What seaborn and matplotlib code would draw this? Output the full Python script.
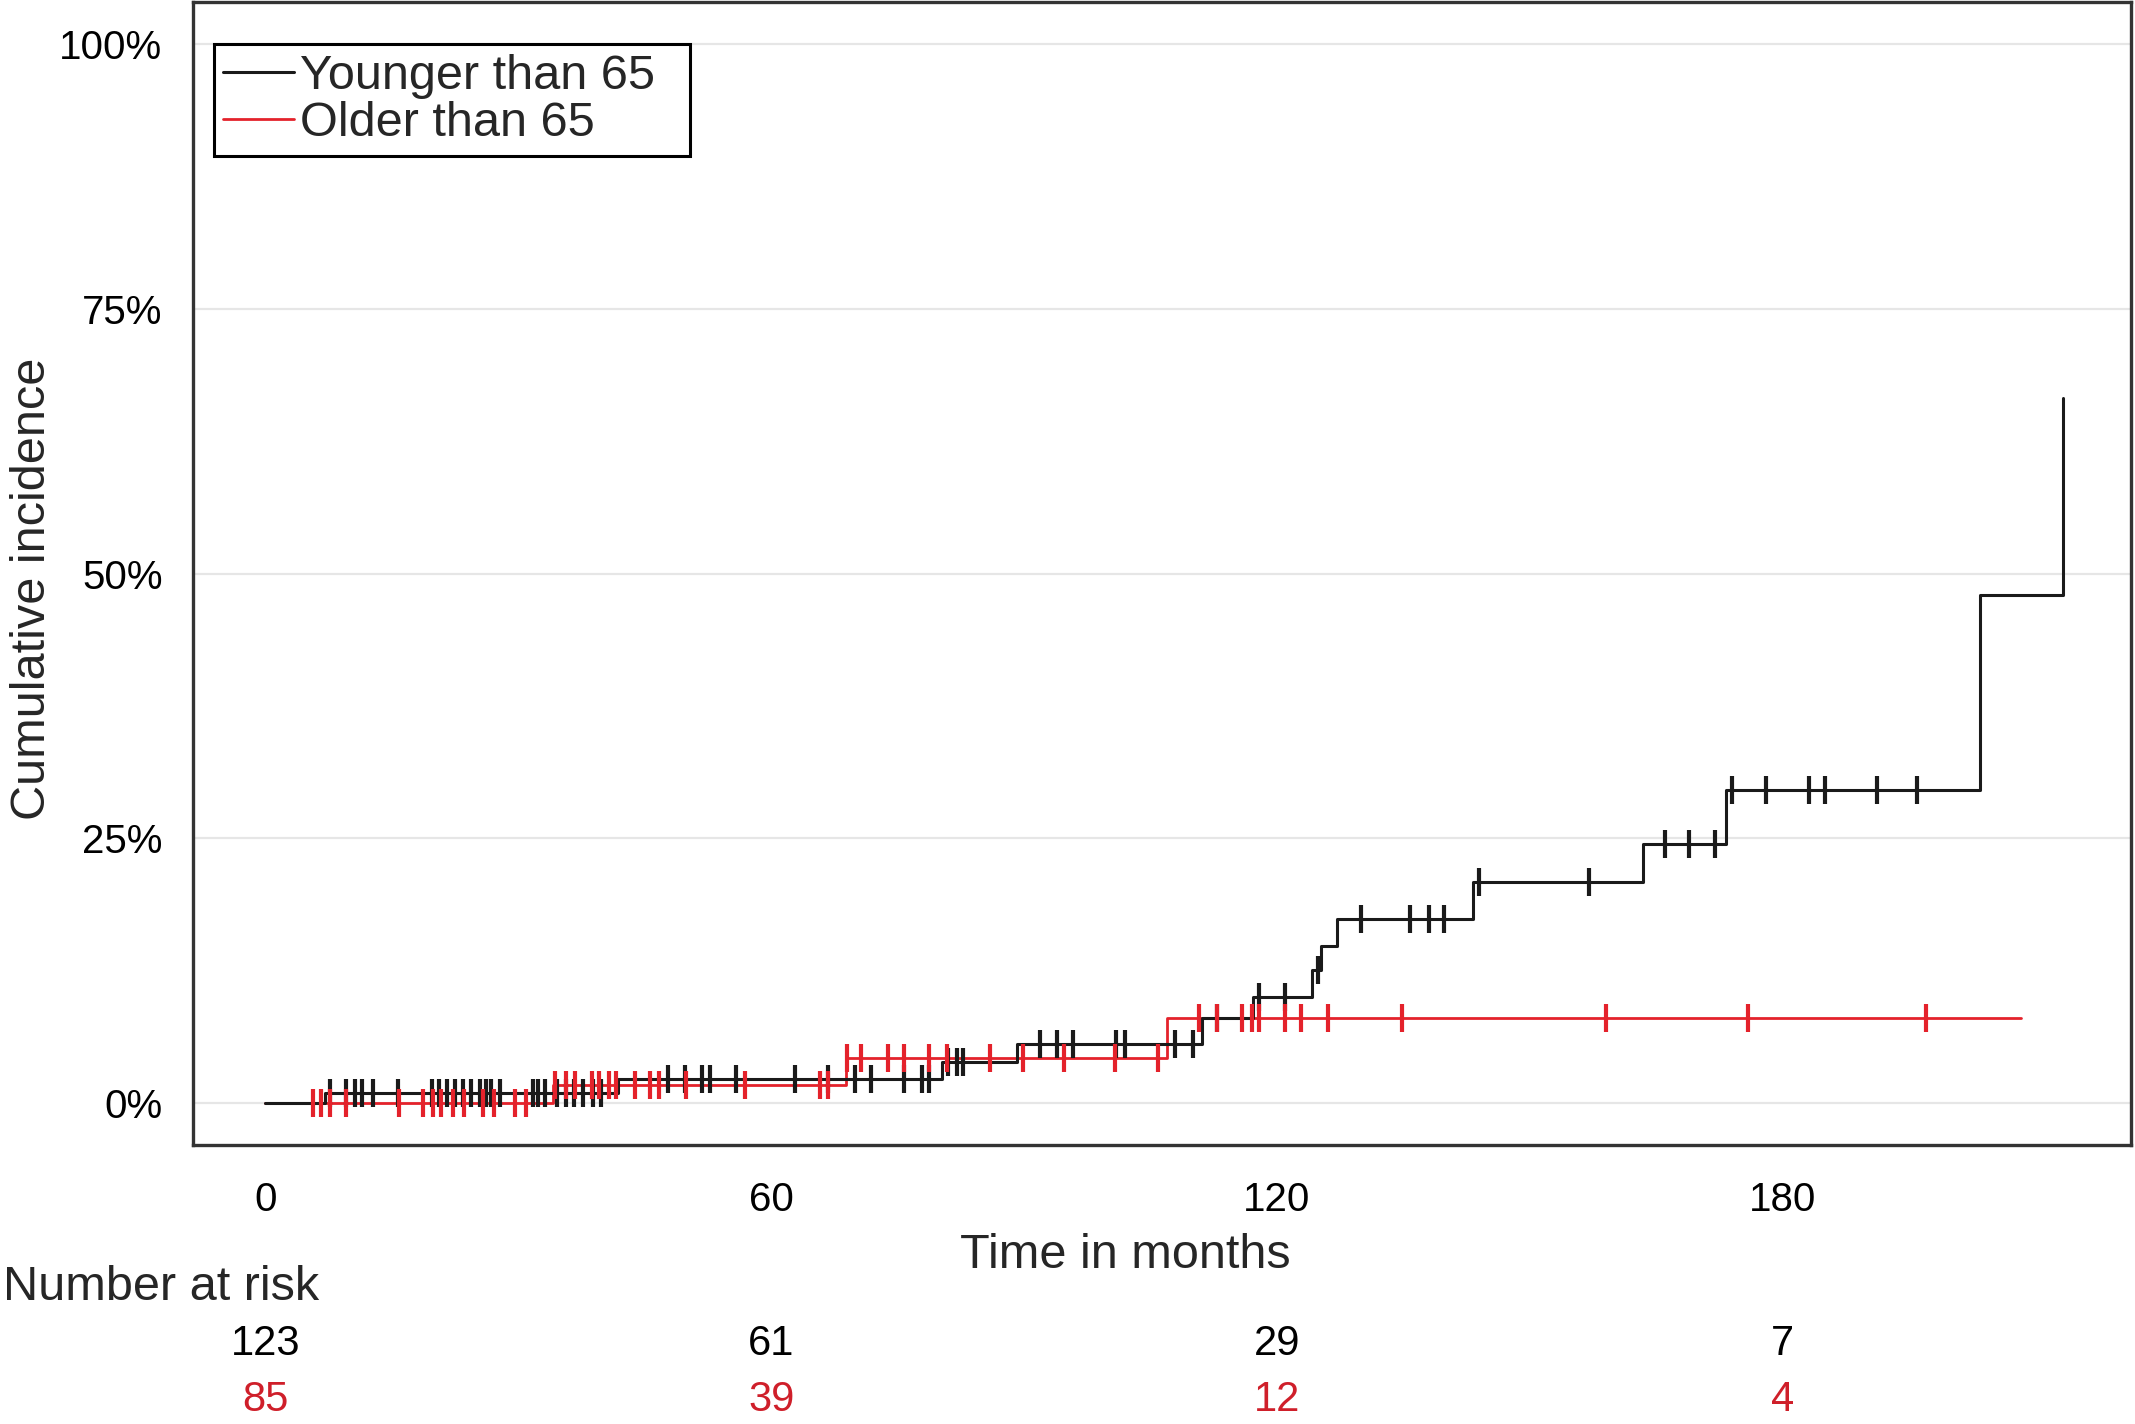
import numpy as np
import pandas as pd
import seaborn as sns
import matplotlib.pyplot as plt
from matplotlib.transforms import blended_transform_factory

# step functions (months, cumulative incidence %)
young_times = [0, 7.0, 41.8, 80.2, 89.2, 111.1, 117.1, 124.1, 125.2, 127.1,
               143.3, 163.4, 173.3, 203.4, 213.2]
young_cuminc = [0, 0.9, 2.2, 3.8, 5.5, 8.0, 10.0, 12.5, 14.8, 17.4,
                20.9, 24.4, 29.5, 48.0, 66.6]
old_times = [0, 34.1, 68.9, 107.0, 208.3]
old_cuminc = [0, 1.7, 4.2, 8.05, 8.05]

# censoring times
young_censor = [7.7, 9.6, 10.6, 11.4, 12.8, 15.7, 19.7, 20.6, 21.5, 22.5, 23.4,
                24.4, 25.4, 26.2, 26.8, 27.8, 31.7, 32.3, 33.1, 34.6, 35.7, 36.6,
                37.7, 38.8, 39.8, 47.8, 49.8, 51.8, 52.7, 55.8, 62.8, 66.7, 69.9,
                71.8, 75.8, 77.9, 78.7, 81.0, 82.0, 82.8, 91.9, 93.9, 95.8, 100.9,
                102.0, 107.9, 110.0, 112.9, 117.9, 120.9, 124.9, 130.0, 135.8,
                138.0, 139.8, 143.9, 157.0, 166.0, 168.9, 171.9, 174.0, 178.0,
                183.1, 185.0, 191.2, 195.9]
old_censor = [5.6, 6.6, 7.6, 9.5, 15.8, 18.7, 19.9, 20.8, 22.3, 23.6, 25.8, 27.1,
              29.6, 30.9, 34.3, 35.7, 36.7, 38.7, 39.6, 40.8, 41.6, 43.8, 45.6,
              46.7, 49.9, 56.9, 65.8, 66.7, 69.0, 70.7, 73.9, 75.8, 78.7, 80.9,
              86.0, 89.9, 94.7, 100.8, 105.9, 110.7, 112.9, 115.9, 117.0, 117.9,
              120.9, 122.8, 126.0, 134.8, 159.0, 175.9, 197.0]

# number at risk
risk_times = [0, 60, 120, 180]
young_risk = [123, 61, 29, 7]
old_risk = [85, 39, 12, 4]

RED = '#e4222b'
RED_TXT = '#cf1f2a'
BLACK = '#1a1a1a'


def censor_level(times, levels, t):
    idx = np.searchsorted(times, t, side='right') - 1
    return np.asarray(levels)[idx]


young = pd.DataFrame({'time': young_times, 'cuminc': young_cuminc})
old = pd.DataFrame({'time': old_times, 'cuminc': old_cuminc})
young_c = pd.DataFrame({'time': young_censor,
                        'cuminc': censor_level(young_times, young_cuminc, young_censor)})
old_c = pd.DataFrame({'time': old_censor,
                      'cuminc': censor_level(old_times, old_cuminc, old_censor)})

sns.set_style("white")
plt.rcParams['font.family'] = ['Liberation Sans', 'DejaVu Sans']

fig = plt.figure(figsize=(10.675, 7.12), dpi=200)
ax = fig.add_axes([0.0904, 0.1959, 0.9077, 0.8027])

for y in [0, 25, 50, 75, 100]:
    ax.axhline(y, color='#e6e6e6', lw=0.8, zorder=0)

sns.lineplot(data=old, x='time', y='cuminc', drawstyle='steps-post', color=RED,
             lw=1.0, label='Older than 65', ax=ax, zorder=2)
sns.lineplot(data=young, x='time', y='cuminc', drawstyle='steps-post', color=BLACK,
             lw=1.1, label='Younger than 65', ax=ax, zorder=3)
sns.scatterplot(data=young_c, x='time', y='cuminc', marker='|', s=95, linewidth=1.5,
                color=BLACK, ax=ax, zorder=4)
sns.scatterplot(data=old_c, x='time', y='cuminc', marker='|', s=95, linewidth=1.5,
                color=RED, ax=ax, zorder=5)

ax.set_xlim(-8.6, 221.3)
ax.set_ylim(-4, 104)
ax.set_xticks([0, 60, 120, 180])
ax.set_yticks([0, 25, 50, 75, 100])
ax.set_yticklabels(['0%', '25%', '50%', '75%', '100%'])
ax.tick_params(axis='both', direction='out', length=9, width=1.0, color='#333333',
               labelsize=14.5, labelcolor='black')
ax.tick_params(axis='x', pad=4)
ax.tick_params(axis='y', pad=2)
for s in ax.spines.values():
    s.set_color('#333333')
    s.set_linewidth(1.2)

ax.set_xlabel('Time in months', fontsize=17.5)
ax.set_ylabel('Cumulative incidence', fontsize=17.5)
ax.yaxis.label.set_va('center')
ax.xaxis.set_label_coords(0.481, -0.077)
ax.yaxis.set_label_coords(-0.083, 0.487)

handles, labels = ax.get_legend_handles_labels()
order = [labels.index('Younger than 65'), labels.index('Older than 65')]
leg = ax.legend([handles[i] for i in order], [labels[i] for i in order],
                loc='upper left', bbox_to_anchor=(0.0107, 0.90, 0.2459, 0.063),
                mode='expand', borderaxespad=0,
                fontsize=17.5, handlelength=1.45, handletextpad=0.12, labelspacing=0.04,
                borderpad=0.2, fancybox=False, framealpha=1, edgecolor='black')
leg.get_frame().set_linewidth(1.1)

# number at risk table
trans = blended_transform_factory(ax.transData, fig.transFigure)
fig.text(0.0015, 0.0962, 'Number at risk', fontsize=17.5, ha='left', va='center')
for t, n1, n2 in zip(risk_times, young_risk, old_risk):
    ax.text(t, 0.0562, str(n1), transform=trans, ha='center', va='center',
            fontsize=15, color='black')
    ax.text(t, 0.0169, str(n2), transform=trans, ha='center', va='center',
            fontsize=15, color=RED_TXT)

fig.savefig('out.png', dpi=200)
